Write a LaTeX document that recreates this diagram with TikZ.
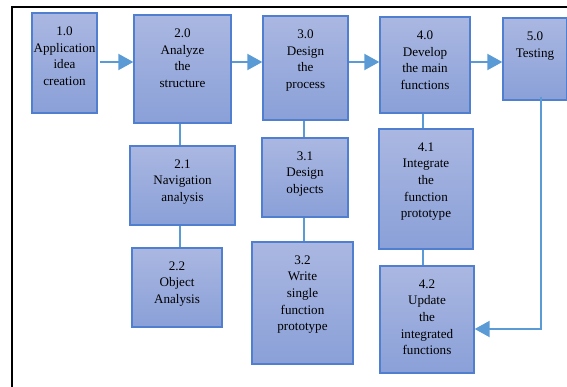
\documentclass[tikz,border=0pt]{standalone}
\usepackage{fontspec}
\setmainfont{Liberation Serif}
\usetikzlibrary{arrows.meta}

\definecolor{boxtop}{HTML}{AAB7E1}
\definecolor{boxbot}{HTML}{8AA0D8}
\definecolor{boxline}{HTML}{4F7FCE}
\definecolor{linkblue}{HTML}{5B9BD5}

\tikzset{
  procbox/.style={rectangle, draw=boxline, line width=1.3pt,
    top color=boxtop, bottom color=boxbot, inner sep=0pt},
  proctext/.style={anchor=north, inner sep=0pt, align=center,
    font=\fontsize{13.1}{16.6}\selectfont},
  linkline/.style={draw=linkblue, line width=2pt},
  flow/.style={linkline, -{Triangle[length=15pt,width=16pt]}},
}

% process box: name, left, top, right, bottom, text
\newcommand\procstep[6]{%
  \node[procbox, minimum width={#4-#2}, minimum height={#5-#3}]
    (#1) at ({(#2+#4)/2},{(#3+#5)/2}) {};
  \node[proctext] (#1-t) at ({(#2+#4)/2},{#3+13.5}) {#6};
}

\begin{document}
\begin{tikzpicture}[x=1pt, y=-1pt]
  \useasboundingbox (0,0) rectangle (567,387);

  % frame lines
  \draw[line width=2.3pt] (12.3,387) -- (12.3,6.7) -- (567,6.7);

  % top row
  \procstep{n10}{32}{13}{97}{113}{1.0\\Application\\idea\\creation}
  \procstep{n20}{134}{15}{231}{123}{2.0\\Analyze\\the\\structure}
  \procstep{n30}{263}{16}{348}{120}{3.0\\Design\\the\\process}
  \procstep{n40}{380}{17}{470}{113}{4.0\\Develop\\the main\\functions}
  \procstep{n50}{503}{18}{567}{100}{5.0\\Testing}

  % sub-steps
  \procstep{n21}{130}{146}{235}{225}{2.1\\Navigation\\analysis}
  \procstep{n22}{132}{248}{222}{327}{2.2\\Object\\Analysis}
  \procstep{n31}{262}{138}{348}{217}{3.1\\Design\\objects}
  \procstep{n32}{252}{242}{353}{364}{3.2\\Write\\single\\function\\prototype}
  \procstep{n41}{379}{129}{473}{249}{4.1\\Integrate\\the\\function\\prototype}
  \procstep{n42}{380}{266}{474}{373}{4.2\\Update\\the\\integrated\\functions}

  % guide coordinates for the connectors
  \coordinate (rowy) at (0,62);
  \coordinate (c2) at (180,0);
  \coordinate (c3) at (303.5,0);
  \coordinate (c4) at (423,0);
  \coordinate (c5) at (540.7,0);
  \coordinate (rety) at (0,329);

  % main flow
  \draw[flow] ([xshift=2pt]n10.east |- rowy) -- (n20.west |- rowy);
  \draw[flow] (n20.east |- rowy) -- (n30.west |- rowy);
  \draw[flow] (n30.east |- rowy) -- (n40.west |- rowy);
  \draw[flow] (n40.east |- rowy) -- (n50.west |- rowy);

  % sub-step links
  \draw[linkline] (n20.south -| c2) -- (n21.north -| c2);
  \draw[linkline] (n21.south -| c2) -- (n22.north -| c2);
  \draw[linkline] (n30.south -| c3) -- (n31.north -| c3);
  \draw[linkline] (n31.south -| c3) -- (n32.north -| c3);
  \draw[linkline] (n40.south -| c4) -- (n41.north -| c4);
  \draw[linkline] (n41.south -| c4) -- (n42.north -| c4);

  % feedback from testing
  \draw[flow] ([yshift=4pt]n50.south -| c5) |- (n42.east |- rety);
\end{tikzpicture}
\end{document}
